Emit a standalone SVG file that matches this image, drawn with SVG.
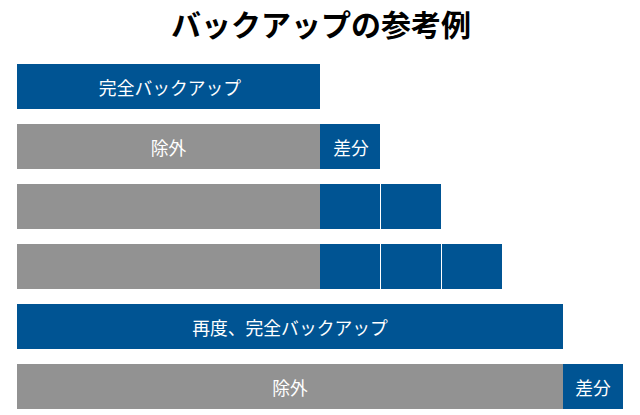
<svg xmlns="http://www.w3.org/2000/svg" width="640" height="415" viewBox="0 0 640 415">
<style>
.b{fill:#005493}
.g{fill:#929292}
text{font-family:"Noto Sans CJK JP","Noto Sans CJK SC",sans-serif}
.t{font-size:30px;font-weight:bold;fill:#000;text-anchor:middle}
.l{font-size:17.8px;fill:#fff;text-anchor:middle;dominant-baseline:central}
</style>
<rect width="640" height="415" fill="#fff"/>
<text class="t" x="321" y="35.5">バックアップの参考例</text>
<g id="row1">
<rect class="b" x="17" y="64" width="303" height="45"/>
<text class="l" x="170" y="86.5">完全バックアップ</text>
</g>
<g id="row2">
<rect class="g" x="17" y="124" width="303" height="45"/>
<text class="l" x="168.5" y="146.5">除外</text>
<rect class="b" x="320" y="124" width="60" height="45"/>
<text class="l" x="351" y="146.5">差分</text>
</g>
<g id="row3">
<rect class="g" x="17" y="184" width="303" height="45"/>
<rect class="b" x="320" y="184" width="60" height="45"/>
<rect class="b" x="381" y="184" width="60" height="45"/>
</g>
<g id="row4">
<rect class="g" x="17" y="244" width="303" height="45"/>
<rect class="b" x="320" y="244" width="60" height="45"/>
<rect class="b" x="381" y="244" width="60" height="45"/>
<rect class="b" x="442" y="244" width="60" height="45"/>
</g>
<g id="row5">
<rect class="b" x="17" y="304" width="546" height="45"/>
<text class="l" x="290" y="326.5">再度、完全バックアップ</text>
</g>
<g id="row6">
<rect class="g" x="17" y="364" width="546" height="45"/>
<text class="l" x="290" y="386.5">除外</text>
<rect class="b" x="563" y="364" width="60" height="45"/>
<text class="l" x="593" y="386.5">差分</text>
</g>
<g id="connectors"/>
</svg>
